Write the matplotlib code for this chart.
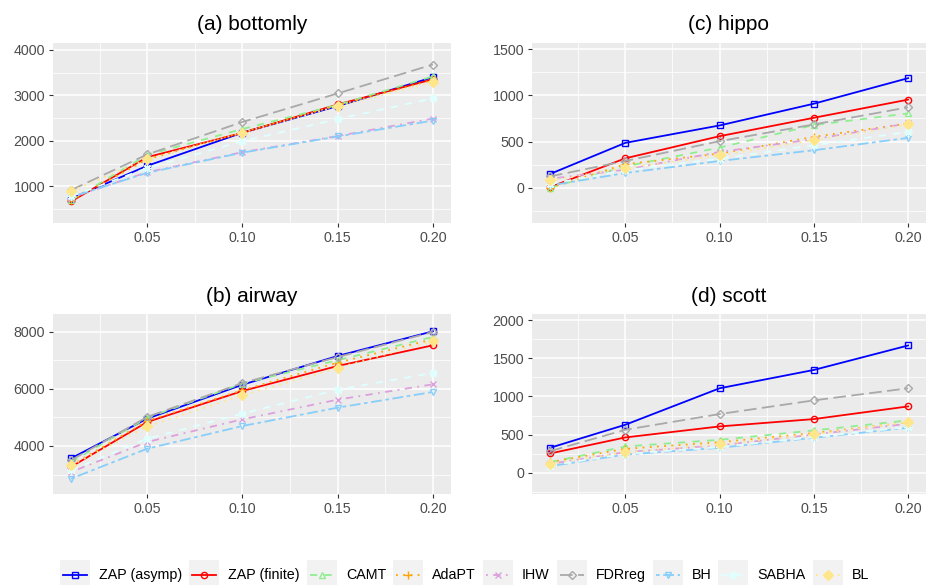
import matplotlib
matplotlib.use("Agg")
import matplotlib.pyplot as plt
from matplotlib.lines import Line2D
from matplotlib.patches import Rectangle
from matplotlib.ticker import MultipleLocator, FixedLocator

plt.rcParams['font.family'] = ['Liberation Sans', 'DejaVu Sans']

# nominal FDR levels on the x axis
alpha = [0.01, 0.05, 0.10, 0.15, 0.20]

methods = ["ZAP (asymp)", "ZAP (finite)", "CAMT", "AdaPT", "IHW",
           "FDRreg", "BH", "SABHA", "BL"]

# number of rejections, one row per method (same order as `methods`)
bottomly = [
    [728, 1450, 2180, 2765, 3400],
    [665, 1640, 2175, 2800, 3355],
    [690, 1690, 2260, 2790, 3420],
    [690, 1590, 2190, 2780, 3340],
    [750, 1310, 1750, 2105, 2490],
    [915, 1700, 2415, 3044, 3680],
    [760, 1295, 1740, 2095, 2445],
    [780, 1400, 1990, 2480, 2934],
    [890, 1600, 2180, 2760, 3290],
]
airway = [
    [3567, 4960, 6150, 7158, 8023],
    [3270, 4842, 5930, 6807, 7532],
    [3440, 4990, 6190, 7010, 7825],
    [3320, 4880, 5960, 6924, 7743],
    [3090, 4140, 4936, 5626, 6164],
    [3500, 5020, 6210, 7120, 8000],
    [2854, 3906, 4702, 5345, 5895],
    [3150, 4257, 5135, 5977, 6561],
    [3320, 4690, 5778, 6737, 7684],
]
hippo = [
    [149, 486, 674, 909, 1185],
    [7, 319, 558, 757, 953],
    [0, 232, 435, 678, 804],
    [0, 255, 370, 551, 696],
    [98, 196, 388, 525, 696],
    [123, 290, 504, 685, 870],
    [25, 160, 290, 406, 540],
    [43, 188, 315, 460, 605],
    [80, 214, 351, 514, 685],
]
scott = [
    [328, 630, 1107, 1347, 1667],
    [254, 464, 608, 704, 870],
    [140, 346, 433, 556, 687],
    [140, 315, 402, 521, 661],
    [118, 271, 359, 503, 643],
    [284, 564, 770, 949, 1107],
    [87, 240, 328, 459, 591],
    [96, 250, 337, 468, 600],
    [118, 271, 372, 503, 665],
]

colors = ["#0000FF", "#FF0000", "#90EE90", "#FFA500", "#DDA0DD",
          "#A9A9A9", "#87CEFA", "#E0FFFF", "#FFE68A"]
dashes = [None, None, (4, 4), (1, 3), (1, 3, 4, 3),
          (7, 3), (2, 2, 6, 2), (4, 4), (1, 3)]
markers = ["s", "o", "^", "+", "x", "D", "v", (8, 2, 0), "D"]
msizes = [4.5, 4.5, 5, 6, 5, 4, 5, 6, 5.5]
filled = [False, False, False, True, True, False, False, True, True]

W, H = 929, 585
fig = plt.figure(figsize=(W / 100, H / 100), dpi=100)

# panels: title, data, y limits, major step, (left, top, right, bottom) in px
panels = [
    ("(a) bottomly", bottomly, (190, 4154), 1000, (53, 43, 451, 223)),
    ("(c) hippo", hippo, (-380, 1565), 500, (532, 43, 926, 223)),
    ("(b) airway", airway, (2316, 8630), 2000, (53, 314, 451, 494)),
    ("(d) scott", scott, (-276, 2079), 500, (532, 314, 926, 494)),
]


def style(lw_key, i):
    kw = dict(color=colors[i], lw=1.3, marker=markers[i], ms=msizes[i],
              mew=1.0, mec=colors[i],
              mfc=colors[i] if filled[i] else "none")
    if dashes[i] is not None:
        kw["dashes"] = dashes[i]
    return kw


for title, data, ylim, step, (l, t, r, b) in panels:
    ax = fig.add_axes([l / W, 1 - b / H, (r - l) / W, (b - t) / H])
    ax.set_facecolor("#EBEBEB")
    for s in ax.spines.values():
        s.set_visible(False)
    for i, vals in enumerate(data):
        ax.plot(alpha, vals, **style(None, i))
    ax.set_xlim(0.0005, 0.2095)
    ax.set_ylim(*ylim)
    ax.xaxis.set_major_locator(FixedLocator([0.05, 0.10, 0.15, 0.20]))
    ax.xaxis.set_minor_locator(FixedLocator([0.025, 0.075, 0.125, 0.175]))
    ax.set_xticklabels(["0.05", "0.10", "0.15", "0.20"])
    ax.yaxis.set_major_locator(MultipleLocator(step))
    ax.yaxis.set_minor_locator(MultipleLocator(step / 2))
    ax.grid(which="major", color="white", lw=1.1)
    ax.grid(which="minor", color="white", lw=0.55)
    ax.set_axisbelow(True)
    ax.tick_params(which="major", length=3.2, width=0.8, color="#333333",
                   labelcolor="#4D4D4D", labelsize=10.3, pad=2.5)
    ax.tick_params(which="minor", length=0)
    ax.set_title(title, fontsize=15, pad=9)

# legend along the bottom, ggplot-style grey key boxes
fig.canvas.draw()
renderer = fig.canvas.get_renderer()
key_w, key_h, gap_t, gap_k = 30, 30, 9, 7
yc = 575
texts = []
for name in methods:
    t = fig.text(0, 0, name, fontsize=10.3, va="center", ha="left")
    texts.append((t, t.get_window_extent(renderer=renderer).width))
total = sum(key_w + gap_t + w for _, w in texts) + gap_k * (len(texts) - 1)
x = (W - total) / 2
for i, (t, w) in enumerate(texts):
    fig.add_artist(Rectangle((x / W, 1 - (yc + key_h / 2) / H), key_w / W,
                             key_h / H, transform=fig.transFigure,
                             facecolor="#F2F2F2", edgecolor="none"))
    kw = style(None, i)
    kw.pop("marker")
    kw.pop("ms")
    fig.add_artist(Line2D([(x + 3) / W, (x + key_w - 3) / W],
                          [1 - yc / H] * 2, transform=fig.transFigure,
                          **{k: v for k, v in kw.items()
                             if k not in ("mew", "mec", "mfc")}))
    fig.add_artist(Line2D([(x + key_w / 2) / W], [1 - yc / H],
                          transform=fig.transFigure, lw=0,
                          marker=markers[i], ms=msizes[i], mew=1.0,
                          mec=colors[i],
                          mfc=colors[i] if filled[i] else "none"))
    t.set_position(((x + key_w + gap_t) / W, 1 - yc / H))
    x += key_w + gap_t + w + gap_k

fig.savefig("out.png", dpi=100)
